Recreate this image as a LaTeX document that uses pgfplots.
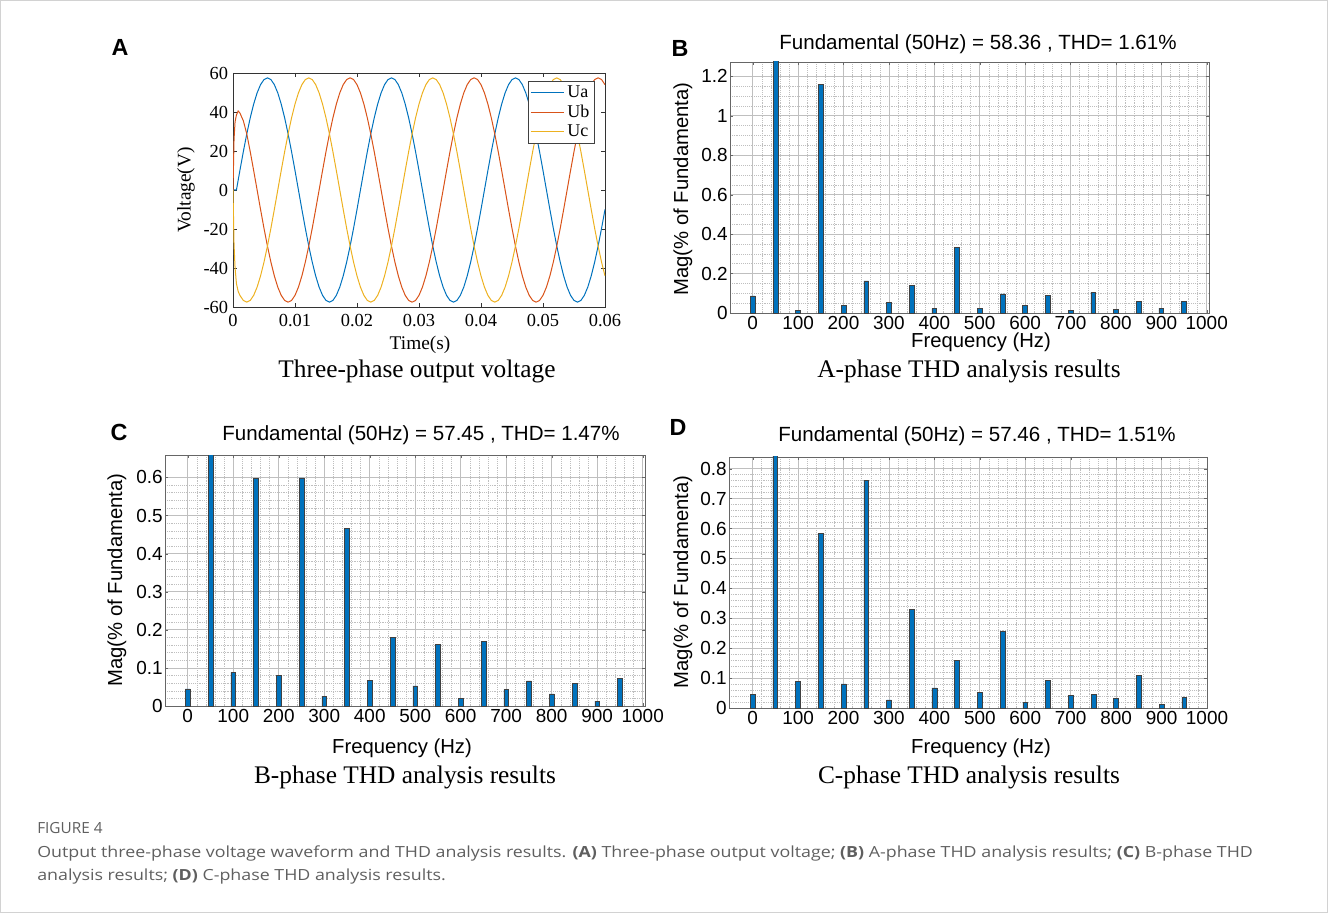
\documentclass[border=0pt]{standalone}
\usepackage{fontspec}
\setmainfont{Liberation Serif}
\setsansfont{Liberation Sans}
\newfontfamily\capfont{Open Sans}
\usepackage{graphicx}
\usepackage{pgfplots}
\pgfplotsset{compat=1.18}
\usepackage{pgfplotstable}
\definecolor{mblue}{RGB}{0,114,189}
\definecolor{mred}{RGB}{217,83,25}
\definecolor{myellow}{RGB}{237,177,32}
\definecolor{capgray}{RGB}{95,95,95}

% three-phase voltage, x in electrical degrees of 50 Hz (180 deg = 0.01 s)
\pgfplotstableread{
t ua ub uc
0 0 0 0
3 0 26 -28
6 0 35 -40
10 0 38.5 -48
15 5.01 40.5 -52
20 9.98 39.5 -54.03
30 19.67 35.5 -56.63
40 28.75 28.75 -57.50
50 36.96 19.67 -56.63
60 44.05 9.98 -54.03
70 49.80 0 -49.80
80 54.03 -9.98 -44.05
90 56.63 -19.67 -36.96
100 57.50 -28.75 -28.75
110 56.63 -36.96 -19.67
120 54.03 -44.05 -9.98
130 49.80 -49.80 0
140 44.05 -54.03 9.98
150 36.96 -56.63 19.67
160 28.75 -57.50 28.75
170 19.67 -56.63 36.96
180 9.98 -54.03 44.05
190 0 -49.80 49.80
200 -9.98 -44.05 54.03
210 -19.67 -36.96 56.63
220 -28.75 -28.75 57.50
230 -36.96 -19.67 56.63
240 -44.05 -9.98 54.03
250 -49.80 0 49.80
260 -54.03 9.98 44.05
270 -56.63 19.67 36.96
280 -57.50 28.75 28.75
290 -56.63 36.96 19.67
300 -54.03 44.05 9.98
310 -49.80 49.80 0
320 -44.05 54.03 -9.98
330 -36.96 56.63 -19.67
340 -28.75 57.50 -28.75
350 -19.67 56.63 -36.96
360 -9.98 54.03 -44.05
370 0 49.80 -49.80
380 9.98 44.05 -54.03
390 19.67 36.96 -56.63
400 28.75 28.75 -57.50
410 36.96 19.67 -56.63
420 44.05 9.98 -54.03
430 49.80 0 -49.80
440 54.03 -9.98 -44.05
450 56.63 -19.67 -36.96
460 57.50 -28.75 -28.75
470 56.63 -36.96 -19.67
480 54.03 -44.05 -9.98
490 49.80 -49.80 0
500 44.05 -54.03 9.98
510 36.96 -56.63 19.67
520 28.75 -57.50 28.75
530 19.67 -56.63 36.96
540 9.98 -54.03 44.05
550 0 -49.80 49.80
560 -9.98 -44.05 54.03
570 -19.67 -36.96 56.63
580 -28.75 -28.75 57.50
590 -36.96 -19.67 56.63
600 -44.05 -9.98 54.03
610 -49.80 0 49.80
620 -54.03 9.98 44.05
630 -56.63 19.67 36.96
640 -57.50 28.75 28.75
650 -56.63 36.96 19.67
660 -54.03 44.05 9.98
670 -49.80 49.80 0
680 -44.05 54.03 -9.98
690 -36.96 56.63 -19.67
700 -28.75 57.50 -28.75
710 -19.67 56.63 -36.96
720 -9.98 54.03 -44.05
730 0 49.80 -49.80
740 9.98 44.05 -54.03
750 19.67 36.96 -56.63
760 28.75 28.75 -57.50
770 36.96 19.67 -56.63
780 44.05 9.98 -54.03
790 49.80 0 -49.80
800 54.03 -9.98 -44.05
810 56.63 -19.67 -36.96
820 57.50 -28.75 -28.75
830 56.63 -36.96 -19.67
840 54.03 -44.05 -9.98
850 49.80 -49.80 0
860 44.05 -54.03 9.98
870 36.96 -56.63 19.67
880 28.75 -57.50 28.75
890 19.67 -56.63 36.96
900 9.98 -54.03 44.05
910 0 -49.80 49.80
920 -9.98 -44.05 54.03
930 -19.67 -36.96 56.63
940 -28.75 -28.75 57.50
950 -36.96 -19.67 56.63
960 -44.05 -9.98 54.03
970 -49.80 0 49.80
980 -54.03 9.98 44.05
990 -56.63 19.67 36.96
1000 -57.50 28.75 28.75
1010 -56.63 36.96 19.67
1020 -54.03 44.05 9.98
1030 -49.80 49.80 0
1040 -44.05 54.03 -9.98
1050 -36.96 56.63 -19.67
1060 -28.75 57.50 -28.75
1070 -19.67 56.63 -36.96
1080 -9.98 54.03 -44.05
}\volt

% fundamental (50 Hz) bar runs off the top of each axis
\pgfplotstableread{
f m
0 0.087
50 1.30
100 0.012
150 1.158
200 0.038
250 0.163
300 0.054
350 0.140
400 0.022
450 0.332
500 0.025
550 0.097
600 0.039
650 0.090
700 0.012
750 0.106
800 0.019
850 0.057
900 0.025
950 0.057
}\phA

\pgfplotstableread{
f m
0 0.045
50 0.68
100 0.088
150 0.597
200 0.081
250 0.599
300 0.026
350 0.467
400 0.067
450 0.181
500 0.053
550 0.162
600 0.020
650 0.170
700 0.043
750 0.066
800 0.032
850 0.059
900 0.013
950 0.072
}\phB

\pgfplotstableread{
f m
0 0.045
50 0.86
100 0.088
150 0.584
200 0.081
250 0.761
300 0.027
350 0.330
400 0.067
450 0.160
500 0.053
550 0.257
600 0.019
650 0.093
700 0.043
750 0.045
800 0.032
850 0.108
900 0.012
950 0.036
}\phC

\pgfplotsset{
  thdbar/.style={
    scale only axis, anchor=south west,
    ybar, bar width=3.6pt,
    xmin=-50, xmax=1005, ymin=0,
    xtick={0,100,200,300,400,500,600,700,800,900,1000},
    grid=both, minor x tick num=4,
    major grid style={gray!50, line width=0.5pt},
    minor grid style={gray!50, densely dotted, line width=0.4pt},
    axis line style={black!60}, tick style={black!60},
    tick align=inside, major tick length=2.5pt, minor tick length=0pt,
    ticklabel style={font=\sffamily\fontsize{14.2}{16}\selectfont},
    /pgf/number format/assume math mode=true,
    /pgf/number format/1000 sep={},
    xticklabel style={inner sep=1pt, yshift=-1pt},
    yticklabel style={inner sep=1.5pt},
    clip=true,
  },
  barplot/.style={fill=mblue, draw=black!75, line width=0.4pt},
}

\begin{document}
\begin{tikzpicture}
% frame / bounding box (1 px = 0.75 pt)
\path[use as bounding box] (0pt,0pt) rectangle (996pt,-684.75pt);
\draw[gray!35, line width=0.75pt] (0.4pt,-0.4pt) rectangle (995.6pt,-684.35pt);

% ---------- A ----------
\begin{axis}[
  scale only axis, anchor=south west, at={(174.75pt,-230.25pt)},
  width=279pt, height=175.5pt,
  xmin=0, xmax=1080, ymin=-60, ymax=60,
  xtick={0,180,360,540,720,900,1080},
  xticklabels={0,0.01,0.02,0.03,0.04,0.05,0.06},
  ytick={-60,-40,-20,0,20,40,60},
  tick align=inside, major tick length=3pt,
  axis line style={black!80}, tick style={black!80},
  ticklabel style={font=\rmfamily\fontsize{13.8}{15}\selectfont},
  xticklabel style={inner sep=1.5pt, yshift=-4pt},
  yticklabel style={inner sep=3.5pt},
  /pgf/number format/assume math mode=true,
  legend style={at={(1,1)}, anchor=north east, xshift=-8pt, yshift=-6pt,
    draw=black!75, fill=white, font=\rmfamily\fontsize{13.5}{14}\selectfont,
    inner sep=1.5pt, row sep=0pt, cells={anchor=west}},
  legend image code/.code={\draw[#1] (0pt,0pt) -- (25pt,0pt);},
]
\addplot[mblue, line width=0.75pt] table[x=t, y=ua]{\volt};
\addplot[mred, line width=0.75pt] table[x=t, y=ub]{\volt};
\addplot[myellow, line width=0.75pt] table[x=t, y=uc]{\volt};
\legend{Ua,Ub,Uc}
\end{axis}

% ---------- B ----------
\begin{axis}[thdbar, at={(547.5pt,-234.75pt)}, width=359.25pt, height=188.25pt,
  ymax=1.273, ytick={0,0.2,0.4,0.6,0.8,1,1.2}, minor y tick num=3]
\addplot[barplot] table[x=f, y=m]{\phA};
\end{axis}

% ---------- C ----------
\begin{axis}[thdbar, at={(123.75pt,-529.5pt)}, width=360pt, height=188.25pt,
  ymax=0.659, ytick={0,0.1,0.2,0.3,0.4,0.5,0.6}, minor y tick num=4]
\addplot[barplot] table[x=f, y=m]{\phB};
\end{axis}

% ---------- D ----------
\begin{axis}[thdbar, at={(546.75pt,-531pt)}, width=358.5pt, height=188.25pt,
  xmin=-52, xmax=1000,
  ymax=0.839, ytick={0,0.1,0.2,0.3,0.4,0.5,0.6,0.7,0.8}, minor y tick num=4]
\addplot[barplot] table[x=f, y=m]{\phC};
\end{axis}

% ---------- texts (pixel coordinates) ----------
\begin{scope}[x=0.75pt, y=-0.75pt]
\tikzset{
  plet/.style={font=\sffamily\bfseries\fontsize{17.5}{19}\selectfont, inner sep=0pt},
  ttl/.style={font=\sffamily\fontsize{15.4}{17}\selectfont, inner sep=0pt},
  lab/.style={font=\sffamily\fontsize{15.2}{17}\selectfont, inner sep=0pt},
  subt/.style={font=\rmfamily\fontsize{19}{21}\selectfont, inner sep=0pt},
  alab/.style={font=\rmfamily\fontsize{14.5}{16}\selectfont, inner sep=0pt},
  captxt/.style={font=\capfont\fontsize{11.5}{13}\selectfont, text=capgray, inner sep=0pt, anchor=west},
}
\node[plet] at (120,47) {A};
\node[plet] at (680,48) {B};
\node[plet] at (119,432) {C};
\node[plet] at (678,427) {D};

\node[alab, rotate=90] at (186,190) {Voltage(V)};
\node[alab] at (420,345) {Time(s)};
\node[subt] at (417,371) {Three-phase output voltage};

\node[ttl] at (978,44) {Fundamental (50Hz) = 58.36 , THD= 1.61\%};
\node[lab, rotate=90] at (683,189) {Mag(\% of Fundamenta)};
\node[lab] at (981,342.5) {Frequency (Hz)};
\node[subt] at (969,371) {A-phase THD analysis results};

\node[ttl] at (421,435) {Fundamental (50Hz) = 57.45 , THD= 1.47\%};
\node[lab, rotate=90] at (117,580) {Mag(\% of Fundamenta)};
\node[lab] at (402,748) {Frequency (Hz)};
\node[subt] at (405,777) {B-phase THD analysis results};

\node[ttl] at (977,436) {Fundamental (50Hz) = 57.46 , THD= 1.51\%};
\node[lab, rotate=90] at (683,582) {Mag(\% of Fundamenta)};
\node[lab] at (981,748) {Frequency (Hz)};
\node[subt] at (969,777) {C-phase THD analysis results};

\node[captxt] at (37,828) {FIGURE 4};
\node[captxt] at (37,853) {\scalebox{1.162}[1]{Output three-phase voltage waveform and THD analysis results. \textbf{(A)} Three-phase output voltage; \textbf{(B)} A-phase THD analysis results; \textbf{(C)} B-phase THD}};
\node[captxt] at (37,877) {\scalebox{1.162}[1]{analysis results; \textbf{(D)} C-phase THD analysis results.}};
\end{scope}
\end{tikzpicture}
\end{document}
